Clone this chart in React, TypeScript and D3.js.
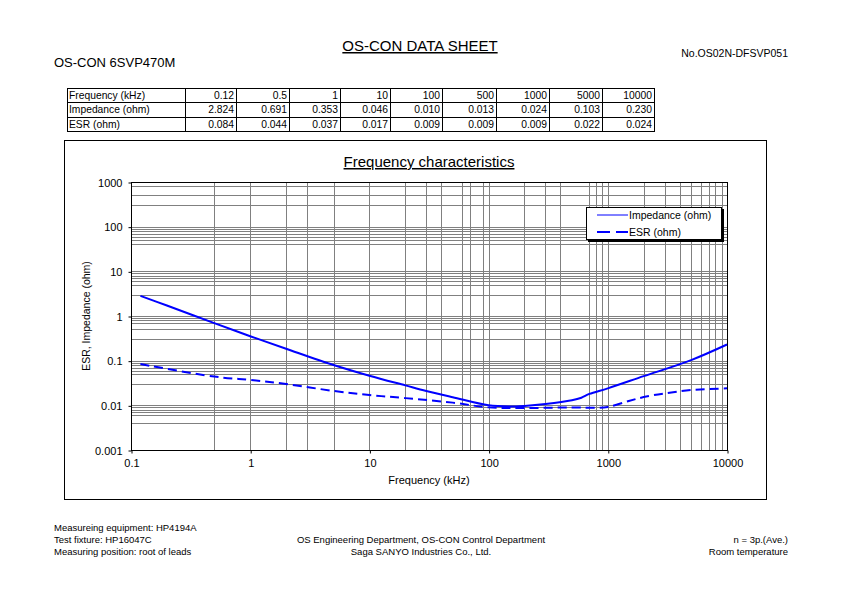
import React, { useEffect, useRef } from 'react';
import * as d3 from 'd3';

// table values (as printed in the sheet)
const tableFreq = ['0.12', '0.5', '1', '10', '100', '500', '1000', '5000', '10000'];
const tableImpedance = [2.824, 0.691, 0.353, 0.046, 0.010, 0.013, 0.024, 0.103, 0.230];
const tableEsr = [0.084, 0.044, 0.037, 0.017, 0.009, 0.009, 0.009, 0.022, 0.024];

// curve points (kHz, ohm)
const impFreq = [0.12, 0.2, 0.5, 1, 2, 5, 10, 20, 30, 50, 100, 150, 200, 300, 500, 600, 700, 1000, 2000, 5000, 10000];
const impValues = [2.824, 1.72, 0.691, 0.353, 0.185, 0.080, 0.046, 0.028, 0.021, 0.0152, 0.010, 0.0094, 0.0097, 0.0107, 0.013, 0.0148, 0.018, 0.024, 0.045, 0.103, 0.230];
const esrFreq = [0.12, 0.5, 1, 2, 5, 10, 20, 50, 100, 200, 500, 800, 1000, 1500, 2000, 3000, 5000, 10000];
const esrValues = [0.084, 0.044, 0.037, 0.030, 0.021, 0.017, 0.0145, 0.0115, 0.009, 0.0087, 0.009, 0.0088, 0.0092, 0.0125, 0.0153, 0.0185, 0.022, 0.024];

// gridlines as they show on the sheet (some minor lines are not printed)
const gridX = [0.5, 2, 3, 5, 20, 30, 40, 60, 70, 90, 200, 300, 400, 700, 800, 900, 2000, 3000, 4000, 5000, 6000, 7000, 8000, 9000];
const gridY = [0.004, 0.006, 0.007, 0.008, 0.009, 0.03, 0.05, 0.06, 0.07, 0.08, 0.09, 0.3, 0.5, 0.7, 0.8, 0.9,
    3, 5, 6, 7, 8, 9, 40, 50, 60, 70, 80, 90, 300, 500, 800];

const legendLabels = ['Impedance (ohm)', 'ESR (ohm)'];

const FONT = '"Liberation Sans", Arial, Helvetica, sans-serif';
const BLUE = '#0000ff';

// table column edges
const colEdges = [67, 185, 236, 289, 340, 390, 442, 496, 549, 602, 654];
const rowTop = 88;
const rowH = 14.4;

const Chart: React.FC = () => {
    const ref = useRef<SVGGElement>(null);

    useEffect(() => {
        const g = d3.select(ref.current);
        g.selectAll('*').remove();

        const left = 131, right = 727, top = 182, bottom = 450;
        const x = d3.scaleLog().domain([0.1, 10000]).range([left, right]);
        const y = d3.scaleLog().domain([0.001, 1000]).range([bottom, top]);
        const fmt = d3.format('~g');
        const isMajor = (v: number) => Math.abs(Math.log10(v) - Math.round(Math.log10(v))) < 1e-9;
        const majorX = x.ticks().filter(isMajor);
        const majorY = y.ticks().filter(isMajor);

        // grid
        g.append('g')
            .selectAll('line')
            .data(majorX.concat(gridX))
            .enter()
            .append('line')
            .attr('x1', d => Math.round(x(d)) + 0.5)
            .attr('x2', d => Math.round(x(d)) + 0.5)
            .attr('y1', top)
            .attr('y2', bottom)
            .attr('stroke', '#808080')
            .attr('stroke-width', 1);

        g.append('g')
            .selectAll('line')
            .data(majorY.concat(gridY))
            .enter()
            .append('line')
            .attr('y1', d => Math.round(y(d)) + 0.5)
            .attr('y2', d => Math.round(y(d)) + 0.5)
            .attr('x1', left)
            .attr('x2', right)
            .attr('stroke', '#808080')
            .attr('stroke-width', 1);

        // plot border
        g.append('rect')
            .attr('x', left + 0.5)
            .attr('y', top + 0.5)
            .attr('width', right - left)
            .attr('height', bottom - top)
            .attr('fill', 'none')
            .attr('stroke', '#000')
            .attr('stroke-width', 1);

        // axes
        const xAxis = d3.axisBottom(x)
            .tickValues(majorX)
            .tickFormat(d => fmt(d as number))
            .tickSize(3)
            .tickPadding(6);
        const xa = g.append('g').attr('transform', `translate(0.5,${bottom + 0.5})`).call(xAxis);
        xa.select('.domain').remove();
        xa.selectAll('text').attr('font-size', 11).attr('font-family', FONT).attr('fill', '#000');

        const yAxis = d3.axisLeft(y)
            .tickValues(majorY)
            .tickFormat(d => fmt(d as number))
            .tickSize(3)
            .tickPadding(6);
        const ya = g.append('g').attr('transform', `translate(${left + 0.5},0.5)`).call(yAxis);
        ya.select('.domain').remove();
        ya.selectAll('text').attr('font-size', 11).attr('font-family', FONT).attr('fill', '#000');

        // curves
        const line = d3.line<[number, number]>()
            .x(d => x(d[0]))
            .y(d => y(d[1]))
            .curve(d3.curveCatmullRom.alpha(0.5));

        g.append('path')
            .datum(impFreq.map((f, i) => [f, impValues[i]] as [number, number]))
            .attr('d', line)
            .attr('fill', 'none')
            .attr('stroke', BLUE)
            .attr('stroke-width', 2);

        g.append('path')
            .datum(esrFreq.map((f, i) => [f, esrValues[i]] as [number, number]))
            .attr('d', line)
            .attr('fill', 'none')
            .attr('stroke', BLUE)
            .attr('stroke-width', 2)
            .attr('stroke-dasharray', '9,5');

        // legend
        const lg = g.append('g').attr('transform', 'translate(586,207)');
        lg.append('rect').attr('x', 2).attr('y', 2).attr('width', 136).attr('height', 33).attr('fill', '#000');
        lg.append('rect').attr('x', 0.5).attr('y', 0.5).attr('width', 135).attr('height', 32).attr('fill', '#fff').attr('stroke', '#000');
        legendLabels.forEach((label, i) => {
            const ly = 8 + i * 17;
            lg.append('line')
                .attr('x1', 11).attr('x2', 42).attr('y1', ly).attr('y2', ly)
                .attr('stroke', BLUE)
                .attr('stroke-width', i === 0 ? 1 : 2)
                .attr('stroke-dasharray', i === 0 ? null : '13,6');
            lg.append('text')
                .attr('x', 43).attr('y', ly + 4)
                .attr('font-size', 10.5)
                .attr('font-family', FONT)
                .text(label);
        });

        // axis titles
        g.append('text')
            .attr('x', (left + right) / 2)
            .attr('y', 484)
            .attr('text-anchor', 'middle')
            .attr('font-size', 11)
            .attr('font-family', FONT)
            .text('Frequency (kHz)');

        g.append('text')
            .attr('transform', `translate(90,${(top + bottom) / 2}) rotate(-90)`)
            .attr('text-anchor', 'middle')
            .attr('font-size', 10.5)
            .attr('font-family', FONT)
            .text('ESR, Impedance (ohm)');

        g.append('text')
            .attr('x', 429)
            .attr('y', 167)
            .attr('text-anchor', 'middle')
            .attr('font-size', 15)
            .attr('font-family', FONT)
            .style('text-decoration', 'underline')
            .text('Frequency characteristics');
    }, []);

    return <g ref={ref}></g>;
};

const App: React.FC = () => {
    const rows = [
        { label: 'Frequency (kHz)', values: tableFreq },
        { label: 'Impedance (ohm)', values: tableImpedance.map(d3.format('.3f')) },
        { label: 'ESR (ohm)', values: tableEsr.map(d3.format('.3f')) },
    ];

    return (
        <div style={{ position: 'absolute', left: 0, top: 0 }}>
            <svg width={842} height={595} style={{ display: 'block', background: '#fff' }} fontFamily={FONT}>
                {/* header */}
                <text x={420} y={51} textAnchor="middle" fontSize={15} style={{ textDecoration: 'underline' }}>OS-CON DATA SHEET</text>
                <text x={54} y={67} fontSize={13}>OS-CON 6SVP470M</text>
                <text x={788} y={57} textAnchor="end" fontSize={10.5}>No.OS02N-DFSVP051</text>

                {/* data table */}
                <g>
                    {rows.map((r, ri) => (
                        <g key={ri}>
                            <text x={colEdges[0] + 2} y={rowTop + ri * rowH + 11} fontSize={10.3}>{r.label}</text>
                            {r.values.map((v, ci) => (
                                <text key={ci} x={colEdges[ci + 2] - 2} y={rowTop + ri * rowH + 11} fontSize={10.3} textAnchor="end">{v}</text>
                            ))}
                        </g>
                    ))}
                    {[0, 1, 2, 3].map(i => (
                        <line key={'h' + i} x1={colEdges[0]} x2={colEdges[colEdges.length - 1]} y1={Math.round(rowTop + i * rowH) + 0.5} y2={Math.round(rowTop + i * rowH) + 0.5} stroke="#000" />
                    ))}
                    {colEdges.map((c, i) => (
                        <line key={'v' + i} x1={c + 0.5} x2={c + 0.5} y1={rowTop} y2={Math.round(rowTop + 3 * rowH) + 1} stroke="#000" />
                    ))}
                </g>

                {/* chart frame */}
                <rect x={64.5} y={140.5} width={702} height={359} fill="none" stroke="#000" />
                <Chart />

                {/* footer */}
                <g fontSize={9.5}>
                    <text x={54} y={531}>Measureing equipment: HP4194A</text>
                    <text x={54} y={543}>Test fixture: HP16047C</text>
                    <text x={54} y={555}>Measuring position: root of leads</text>
                    <text x={421} y={543} textAnchor="middle">OS Engineering Department, OS-CON Control Department</text>
                    <text x={421} y={555} textAnchor="middle">Saga SANYO Industries Co., Ltd.</text>
                    <text x={788} y={543} textAnchor="end">n = 3p.(Ave.)</text>
                    <text x={788} y={555} textAnchor="end">Room temperature</text>
                </g>
            </svg>
        </div>
    );
};

export default App;
